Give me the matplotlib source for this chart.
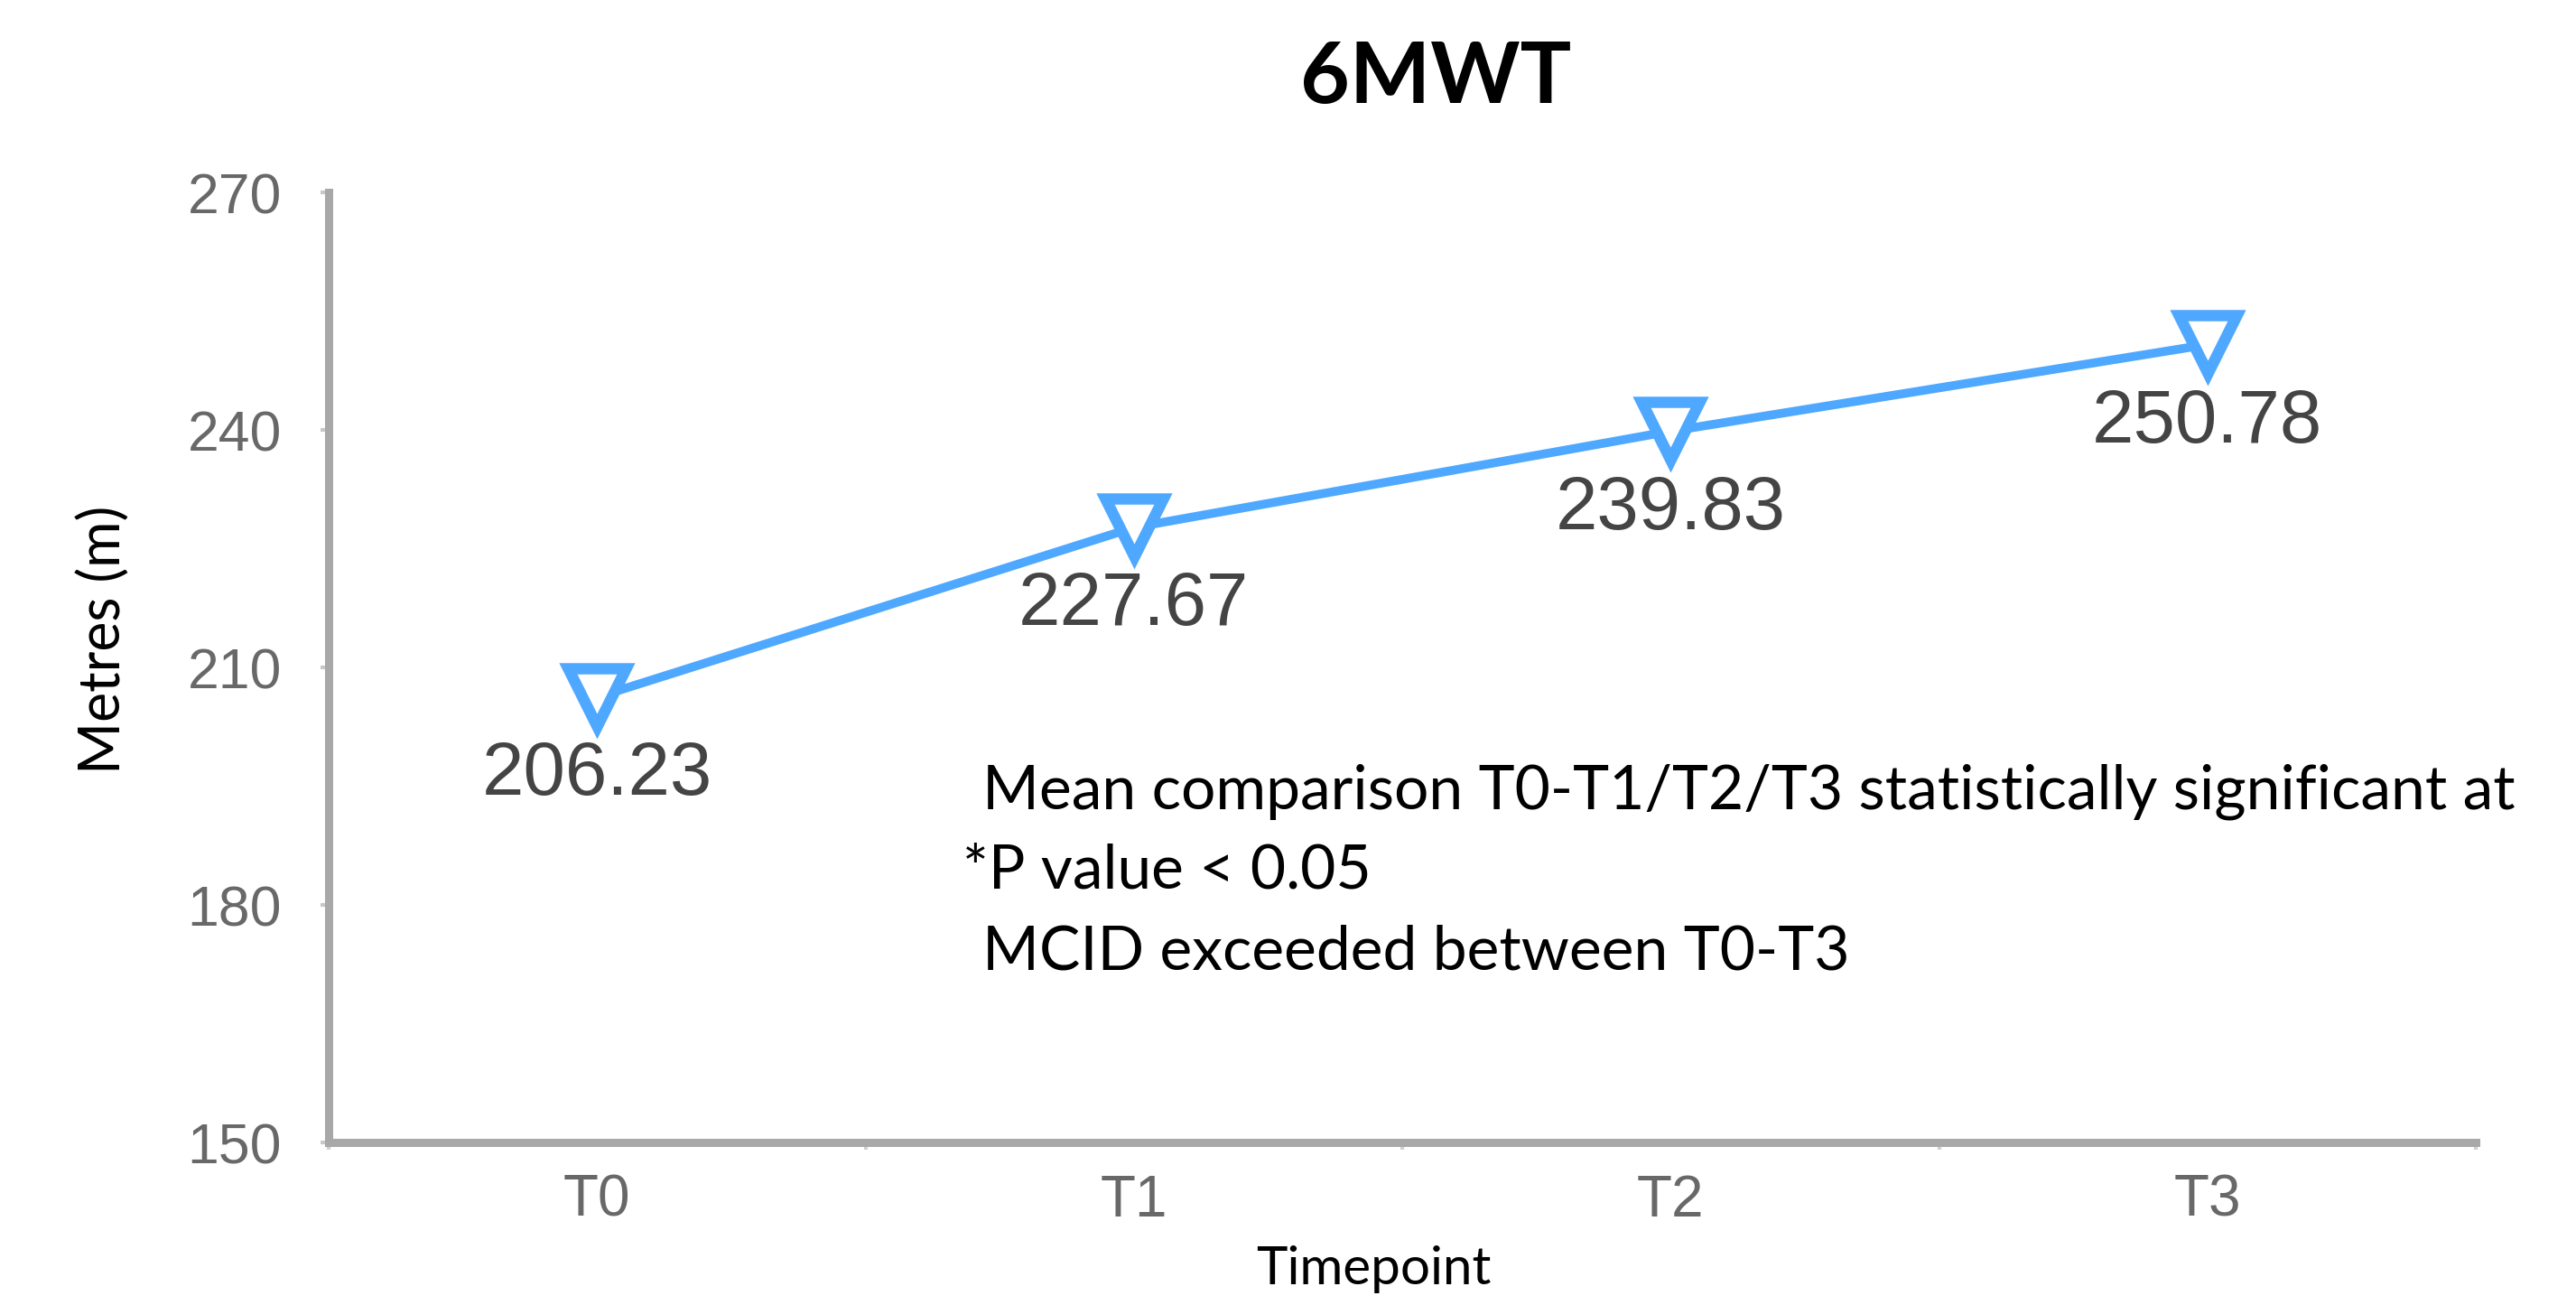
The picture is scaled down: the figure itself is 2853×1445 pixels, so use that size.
import matplotlib
matplotlib.use("Agg")
import matplotlib.pyplot as plt

# ---- data ----
timepoints = ["T0", "T1", "T2", "T3"]
metres = [206.23, 227.67, 239.83, 250.78]
value_labels = ["206.23", "227.67", "239.83", "250.78"]
y_ticks = [150, 180, 210, 240, 270]
title = "6MWT"
y_label = "Metres (m)"
x_label = "Timepoint"
notes = ["Mean comparison T0-T1/T2/T3 statistically significant at",
         "*P value < 0.05",
         "MCID exceeded between T0-T3"]

W, H = 2853, 1445
DPI = 100
fig = plt.figure(figsize=(W / DPI, H / DPI), dpi=DPI)
fig.patch.set_facecolor("white")

left, right, top, bottom = 364, 2742, 213, 1265
ax = fig.add_axes([left / W, 1 - bottom / H, (right - left) / W, (bottom - top) / H])

xpos = [i + 0.5 for i in range(len(timepoints))]
line_col = "#4fa8ff"
ax.plot(xpos, metres, color=line_col, lw=7, marker="v", ms=46,
        mfc="white", mec=line_col, mew=9, solid_capstyle="round", zorder=3, clip_on=False)

for x, v, lab in zip(xpos, metres, value_labels):
    ax.annotate(lab, (x, v), xytext=(0, -62), textcoords="offset points",
                ha="center", va="center", fontsize=60, color="#444444",
                family="Liberation Sans")

ax.set_xlim(0, len(timepoints))
ax.set_ylim(150, 270)
ax.set_yticks(y_ticks)
ax.set_yticklabels([str(t) for t in y_ticks], family="Liberation Sans",
                   fontsize=45, color="#686868")
ax.set_xticks(xpos)
ax.set_xticklabels(timepoints, family="Liberation Sans", fontsize=46, color="#686868")
ax.set_xticks(range(len(timepoints) + 1), minor=True)

ax.tick_params(axis="y", length=6.5, width=3, color="#c8c8c8", pad=31)
ax.tick_params(axis="x", which="major", length=0, pad=25)
ax.tick_params(axis="x", which="minor", length=6, width=3, color="#d0d0d0")

for s in ["top", "right"]:
    ax.spines[s].set_visible(False)
for s in ["left", "bottom"]:
    ax.spines[s].set_color("#a8a8a8")
    ax.spines[s].set_linewidth(6.5)

fig.text(1590 / W, 1 - 87 / H, title, ha="center", va="center",
         fontsize=68, fontweight="bold", family="Lato", color="black")
fig.text(115 / W, 1 - 708 / H, y_label, ha="center", va="center", rotation=90,
         fontsize=45, family="Lato", color="black")
fig.text(1521 / W, 1 - 1405 / H, x_label, ha="center", va="center",
         fontsize=42, family="Lato", color="black")

note_x = [1088, 1066, 1088]
note_y = [895, 983, 1073]
for t, nx, ny in zip(notes, note_x, note_y):
    fig.text(nx / W, 1 - ny / H, t, ha="left", va="baseline",
             fontsize=48.8, family="Lato", color="black")

fig.savefig("out.png", dpi=DPI, facecolor="white")
